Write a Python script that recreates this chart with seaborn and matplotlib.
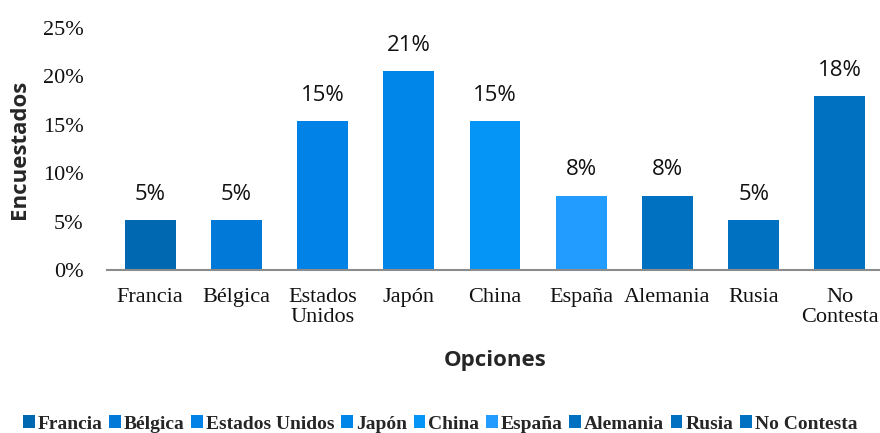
import matplotlib
matplotlib.use("Agg")
import matplotlib.pyplot as plt
import seaborn as sns
import pandas as pd

# Survey answers: share of respondents per option
opciones = ["Francia", "Bélgica", "Estados Unidos", "Japón", "China",
            "España", "Alemania", "Rusia", "No Contesta"]
tick_labels = ["Francia", "Bélgica", "Estados\nUnidos", "Japón", "China",
               "España", "Alemania", "Rusia", "No\nContesta"]
encuestados = [0.0513, 0.0513, 0.1538, 0.2051, 0.1538,
               0.0769, 0.0769, 0.0513, 0.1795]
colores = ["#0067B1", "#0079D8", "#0082E6", "#0085E8", "#0595F7",
           "#229CFF", "#0070C0", "#0070C0", "#0070C0"]

df = pd.DataFrame({"Opciones": opciones, "Encuestados": encuestados})

sns.set_theme(style="white")
fig = plt.figure(figsize=(8.8, 4.33), dpi=100)
ax = fig.add_axes([107 / 880, 1 - 270 / 433, 776 / 880, 242 / 433])

sns.barplot(data=df, x="Opciones", y="Encuestados", hue="Opciones",
            palette=dict(zip(opciones, colores)), width=0.59,
            dodge=False, legend=True, ax=ax, saturation=1,
            edgecolor="none")

ax.set_ylim(0, 0.25)
ax.set_xlim(-0.5, 8.5)
ax.set_yticks([0, 0.05, 0.10, 0.15, 0.20, 0.25])
ax.set_yticklabels([f"{int(round(v * 100))}%" for v in ax.get_yticks()],
                   family="Liberation Serif", fontsize=16, color="#111111")
ax.set_xticks(range(len(opciones)))
ax.set_xticklabels(tick_labels, family="Liberation Serif", fontsize=16,
                   color="#111111", linespacing=1.1)
ax.tick_params(axis="x", length=0, pad=13)
ax.tick_params(axis="y", length=0, pad=17)

for side in ["top", "right", "left"]:
    ax.spines[side].set_visible(False)
ax.spines["bottom"].set_color("#8c8c8c")
ax.spines["bottom"].set_linewidth(1.5)

# value labels above each bar
for i, v in enumerate(encuestados):
    ax.annotate(f"{v * 100:.0f}%", (i, v), xytext=(0, 11),
                textcoords="offset points", ha="center", va="bottom",
                fontsize=16, family="Open Sans", color="#111111")

ax.set_xlabel("Opciones", family="Open Sans", fontweight="bold",
              fontsize=16, labelpad=16)
ax.set_ylabel("Encuestados", family="Open Sans", fontweight="bold",
              fontsize=16, labelpad=9)

handles, labels = ax.get_legend_handles_labels()
ax.get_legend().remove()
fig.legend(handles, labels, loc="center", bbox_to_anchor=(0.5, 1 - 424 / 433),
           ncol=9, frameon=False, handlelength=0.6, handleheight=0.6,
           handletextpad=0.15, columnspacing=0.35, borderaxespad=0,
           prop={"family": "Liberation Serif", "weight": "bold", "size": 14})

fig.savefig("out.png", dpi=100)
